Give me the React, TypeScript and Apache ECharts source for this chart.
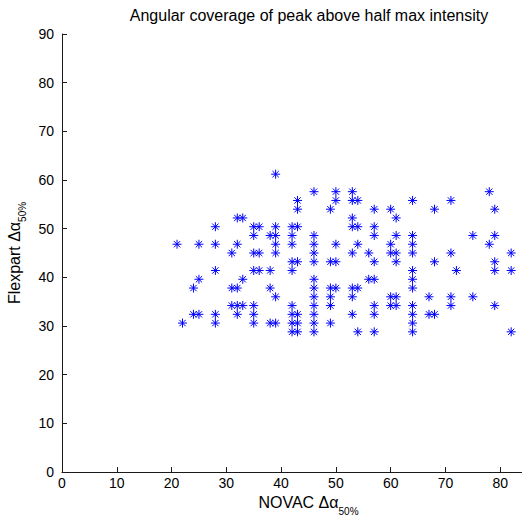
import React, { useEffect, useRef } from "react";
import * as echarts from "echarts";

// NOVAC Δα50% values (x) and the Flexpart Δα50% values (y) observed at each of them
const novacColumns = [21, 22, 24, 25, 28, 31, 32, 33, 35, 36, 38, 39, 42, 43, 46, 49, 50, 53, 54, 56, 57, 60, 61, 64, 67, 68, 71, 72, 75, 78, 79, 82];
const flexpartByColumn = [
  [46.8],
  [30.6],
  [37.8, 32.4],
  [46.8, 39.6, 32.4],
  [50.4, 46.8, 41.4, 32.4, 30.6],
  [45, 37.8, 34.2],
  [52.2, 46.8, 37.8, 34.2, 32.4],
  [52.2, 39.6, 34.2],
  [50.4, 48.6, 45, 41.4, 34.2, 32.4, 30.6],
  [50.4, 45, 41.4],
  [48.6, 41.4, 37.8, 30.6],
  [61.2, 50.4, 48.6, 46.8, 45, 36, 30.6],
  [50.4, 48.6, 46.8, 43.2, 41.4, 34.2, 32.4, 30.6, 28.8],
  [55.8, 54, 50.4, 43.2, 32.4, 30.6, 28.8],
  [57.6, 48.6, 46.8, 45, 43.2, 39.6, 37.8, 36, 34.2, 32.4, 30.6, 28.8],
  [54, 43.2, 37.8, 36, 34.2, 30.6],
  [57.6, 55.8, 46.8, 43.2, 37.8],
  [57.6, 55.8, 52.2, 50.4, 45, 37.8, 36, 32.4],
  [55.8, 50.4, 46.8, 37.8, 28.8],
  [45, 39.6],
  [54, 50.4, 48.6, 43.2, 39.6, 34.2, 32.4, 28.8],
  [54, 46.8, 45, 36, 34.2],
  [52.2, 48.6, 45, 43.2, 36, 34.2],
  [55.8, 48.6, 46.8, 45, 41.4, 39.6, 37.8, 34.2, 32.4, 30.6, 28.8],
  [36, 32.4],
  [54, 43.2, 32.4],
  [55.8, 45, 36, 34.2],
  [41.4],
  [48.6, 36],
  [57.6, 46.8],
  [54, 48.6, 43.2, 41.4, 34.2],
  [45, 41.4, 28.8],
];
const xTicks = [0, 10, 20, 30, 40, 50, 60, 70, 80, 90];
const yTicks = [0, 10, 20, 30, 40, 50, 60, 70, 80, 90];

const titleText = "Angular coverage of peak above half max intensity";
const FONT = "'Liberation Sans', Arial, Helvetica, sans-serif";

const ASTERISK =
  "path://M5 0L5 10M0 5L10 5M1.5 1.5L8.5 8.5M1.5 8.5L8.5 1.5";

export default function App() {
  const ref = useRef<HTMLDivElement>(null);

  useEffect(() => {
    if (!ref.current) return;
    const chart = echarts.init(ref.current, null, { renderer: "svg" });
    const data: number[][] = [];
    novacColumns.forEach((x, i) => {
      flexpartByColumn[i].forEach((y) => data.push([x, y]));
    });
    const axisCommon = {
      type: "value" as const,
      interval: 10,
      splitLine: { show: false },
      axisLine: { show: true, lineStyle: { color: "#1a1a1a", width: 1 } },
      axisTick: { show: true, inside: true, length: 5, lineStyle: { color: "#1a1a1a" } },
    };
    const nameRich = {
      n: { fontFamily: FONT, fontSize: 16, color: "#000" },
      s: { fontFamily: FONT, fontSize: 10, color: "#000", padding: [17, 0, 0, 0] },
    };
    chart.setOption({
      animation: false,
      backgroundColor: "#ffffff",
      title: {
        text: titleText,
        left: 304,
        top: 2,
        textAlign: "center",
        textStyle: { fontFamily: FONT, fontSize: 16, fontWeight: "normal", color: "#000" },
      },
      grid: {
        left: 62,
        width: 493,
        top: 34,
        bottom: 45,
        containLabel: false,
        outerBoundsMode: "none",
      },
      xAxis: {
        ...axisCommon,
        min: xTicks[0],
        max: xTicks[xTicks.length - 1],
        axisLabel: { fontFamily: FONT, fontSize: 14, color: "#000", margin: 4, showMaxLabel: false },
        name: "{n|NOVAC Δα}{s|50%}",
        nameLocation: "middle",
        nameGap: 13,
        nameTextStyle: { fontFamily: FONT, color: "#000", rich: nameRich },
      },
      yAxis: {
        ...axisCommon,
        min: yTicks[0],
        max: yTicks[yTicks.length - 1],
        axisLabel: { fontFamily: FONT, fontSize: 14, color: "#000", margin: 8 },
        name: "{n|Flexpart Δα}{s|50%}",
        nameLocation: "middle",
        nameGap: 33,
        nameTextStyle: { fontFamily: FONT, color: "#000", rich: nameRich },
      },
      series: [
        {
          type: "scatter",
          data,
          symbol: ASTERISK,
          symbolSize: 9,
          itemStyle: { color: "#0000ff", borderColor: "#0000ff", borderWidth: 1, opacity: 1 },
          emphasis: { disabled: true },
        },
      ],
    });
    return () => chart.dispose();
  }, []);

  return (
    <div
      style={{ position: "fixed", left: 0, top: 0, width: 522, height: 517, overflow: "hidden", background: "#fff" }}
    >
      <div ref={ref} style={{ width: 560, height: 517 }} />
    </div>
  );
}
